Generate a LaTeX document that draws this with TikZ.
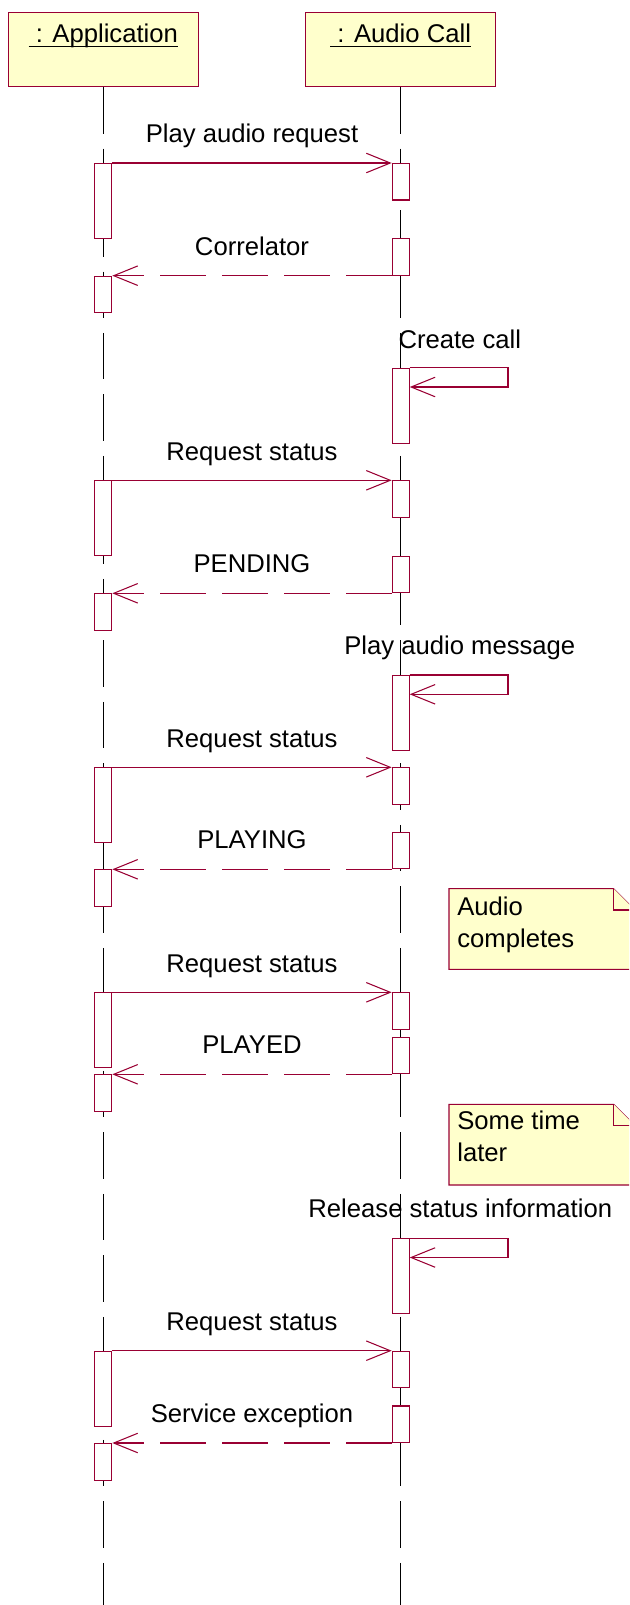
\documentclass[tikz,border=0pt]{standalone}
\usepackage{fontspec}
\setmainfont{Liberation Sans}
\usetikzlibrary{arrows.meta}
\definecolor{umlred}{RGB}{153,0,51}
\definecolor{notefill}{RGB}{255,255,204}
\newsavebox\ulbox
\newcommand\objul[1]{\sbox\ulbox{#1}\rlap{\rule[-2.8pt]{\wd\ulbox}{1.1pt}}\usebox\ulbox}
\newcommand\umlfont{\fontsize{14.6}{18.1}\selectfont}
\tikzset{
  objbox/.style={draw=umlred, fill=notefill, line width=0.6pt, inner sep=0pt, anchor=north,
    minimum width=3.81cm, text height=0.594cm, text depth=0.88cm, font=\umlfont},
  lifeline/.style={line width=0.5pt, dash pattern=on 0.93cm off 0.3cm},
  act/.style={draw=umlred, fill=white, line width=0.6pt, inner sep=0pt, minimum width=0.34cm},
  longact/.style={act, minimum height=1.5cm},
  shortact/.style={act, minimum height=0.73cm},
  msg/.style={draw=umlred, line width=0.6pt, -{Straight Barb[length=0.48cm, width=0.39cm]}},
  retmsg/.style={msg, dash pattern=on 0.92cm off 0.32cm},
  lbl/.style={anchor=base, inner sep=0pt, font=\umlfont},
  notebox/.style={draw=umlred, fill=notefill, line width=0.6pt},
  notetxt/.style={anchor=base west, inner sep=0pt, align=left, font=\umlfont}
}
\begin{document}
\begin{tikzpicture}[x=0.02cm, y=-0.02cm]
    \useasboundingbox (0,0) rectangle (629,1605);
    \clip (0,0) rectangle (629,1605);
    \node[objbox] (app) at (103.3,12.3) {\objul{\ : Application}};
    \node[objbox] (aud) at (400.7,12.3) {\objul{\ : Audio Call}};
    \coordinate (append) at (103.3,1605); \coordinate (audend) at (400.7,1605);
    \draw[lifeline] (app.south) -- (append); \draw[lifeline] (aud.south) -- (audend);

    \node[longact, anchor=north] (a1) at (103.3,163) {}; \node[shortact, anchor=north] (b1) at (400.7,163) {};
    \node[shortact, anchor=south] (c1) at (400.7,275.7) {}; \node[shortact, anchor=north] (d1) at (103.3,275.7) {};
    \draw[msg] (a1.north east) -- (b1.north west); \draw[retmsg] (c1.south west) -- (d1.north east);
    \node[lbl] (m1) at (252,142.7) {Play audio request}; \node[lbl] (r1) at (252,255.2) {Correlator};

    \node[longact, anchor=north] (s1) at (400.7,367.7) {}; \coordinate (l1) at (508,387);
    \draw[msg] (s1.north east) -| (l1) -- (l1 -| s1.east);
    \node[lbl] (t1) at (459.8,348.3) {Create call};

    \node[longact, anchor=north] (a2) at (103.3,480.3) {}; \node[shortact, anchor=north] (b2) at (400.7,480.3) {};
    \node[shortact, anchor=south] (c2) at (400.7,593.3) {}; \node[shortact, anchor=north] (d2) at (103.3,593.3) {};
    \draw[msg] (a2.north east) -- (b2.north west); \draw[retmsg] (c2.south west) -- (d2.north east);
    \node[lbl] (m2) at (252,460) {Request status}; \node[lbl] (r2) at (252,572.8) {PENDING};

    \node[longact, anchor=north] (s2) at (400.7,675) {}; \coordinate (l2) at (508,694.3);
    \draw[msg] (s2.north east) -| (l2) -- (l2 -| s2.east);
    \node[lbl] (t2) at (459.8,654.5) {Play audio message};

    \node[longact, anchor=north] (a3) at (103.3,767.3) {}; \node[shortact, anchor=north] (b3) at (400.7,767.3) {};
    \node[shortact, anchor=south] (c3) at (400.7,869.3) {}; \node[shortact, anchor=north] (d3) at (103.3,869.3) {};
    \draw[msg] (a3.north east) -- (b3.north west); \draw[retmsg] (c3.south west) -- (d3.north east);
    \node[lbl] (m3) at (252,747.3) {Request status}; \node[lbl] (r3) at (252,848.5) {PLAYING};

    \draw[notebox] (449,888.7) -- (613.7,888.7) -- (635,910) |- (449,969.3) -- cycle;
    \draw[notebox] (613.7,888.7) |- (635,910);
    \node[notetxt] (n1) at (457,947.3) {Audio\\completes};

    \node[longact, anchor=north] (a4) at (103.3,992.3) {}; \node[shortact, anchor=north] (b4) at (400.7,992.3) {};
    \node[shortact, anchor=south] (c4) at (400.7,1074.3) {}; \node[shortact, anchor=north] (d4) at (103.3,1074.3) {};
    \draw[msg] (a4.north east) -- (b4.north west); \draw[retmsg] (c4.south west) -- (d4.north east);
    \node[lbl] (m4) at (252,972) {Request status}; \node[lbl] (r4) at (252,1053.5) {PLAYED};

    \draw[notebox] (449,1104.3) -- (613.7,1104.3) -- (635,1125.6) |- (449,1185) -- cycle;
    \draw[notebox] (613.7,1104.3) |- (635,1125.6);
    \node[notetxt] (n2) at (457,1161.7) {Some time\\later};

    \node[longact, anchor=north] (s3) at (400.7,1238.3) {}; \coordinate (l3) at (508,1257.5);
    \draw[msg] (s3.north east) -| (l3) -- (l3 -| s3.east);
    \node[lbl] (t3) at (460.3,1217.3) {Release status information};

    \node[longact, anchor=north] (a5) at (103.3,1350.7) {}; \node[shortact, anchor=north] (b5) at (400.7,1350.7) {};
    \node[shortact, anchor=south] (c5) at (400.7,1443) {}; \node[shortact, anchor=north] (d5) at (103.3,1443) {};
    \draw[msg] (a5.north east) -- (b5.north west); \draw[retmsg] (c5.south west) -- (d5.north east);
    \node[lbl] (m5) at (252,1330) {Request status}; \node[lbl] (r5) at (252,1422.7) {Service exception};
\end{tikzpicture}
\end{document}
